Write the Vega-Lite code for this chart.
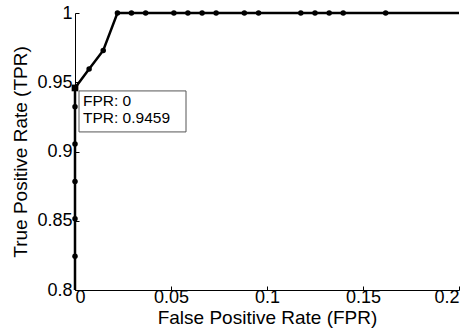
{
  "$schema": "https://vega.github.io/schema/vega-lite/v6.json",
  "autosize": "none",
  "width": 384,
  "height": 277,
  "padding": {"left": 75, "top": 13, "right": 14, "bottom": 42},
  "background": "white",
  "config": {
    "view": {"stroke": null},
    "font": "Liberation Sans",
    "axis": {
      "domainColor": "black",
      "domainWidth": 1,
      "tickColor": "black",
      "tickSize": -4,
      "labelColor": "black",
      "titleColor": "black",
      "labelFont": "Liberation Sans",
      "titleFont": "Liberation Sans",
      "labelFontSize": 18,
      "titleFontSize": 19,
      "titleFontWeight": "normal",
      "grid": false
    }
  },
  "datasets": {
    "roc": [
      {"fpr": 0, "tpr": 0},
      {"fpr": 0, "tpr": 0.8243},
      {"fpr": 0, "tpr": 0.8514},
      {"fpr": 0, "tpr": 0.8784},
      {"fpr": 0, "tpr": 0.9054},
      {"fpr": 0, "tpr": 0.9324},
      {"fpr": 0, "tpr": 0.9459},
      {"fpr": 0.00735, "tpr": 0.9595},
      {"fpr": 0.0147, "tpr": 0.973},
      {"fpr": 0.0221, "tpr": 1},
      {"fpr": 0.0294, "tpr": 1},
      {"fpr": 0.0368, "tpr": 1},
      {"fpr": 0.0515, "tpr": 1},
      {"fpr": 0.0588, "tpr": 1},
      {"fpr": 0.0662, "tpr": 1},
      {"fpr": 0.0735, "tpr": 1},
      {"fpr": 0.0882, "tpr": 1},
      {"fpr": 0.0956, "tpr": 1},
      {"fpr": 0.1176, "tpr": 1},
      {"fpr": 0.125, "tpr": 1},
      {"fpr": 0.1324, "tpr": 1},
      {"fpr": 0.1397, "tpr": 1},
      {"fpr": 0.1618, "tpr": 1},
      {"fpr": 1, "tpr": 1}
    ],
    "tip": [
      {"fpr": 0, "tpr": 0.9459, "label": ["FPR: 0", "TPR: 0.9459"]}
    ]
  },
  "layer": [
    {
      "data": {"name": "roc"},
      "mark": {"type": "line", "color": "black", "strokeWidth": 2.5},
      "encoding": {
        "x": {
          "field": "fpr", "type": "quantitative",
          "scale": {"domain": [0, 0.2], "clamp": true, "nice": false},
          "axis": {"values": [0, 0.05, 0.1, 0.15, 0.2], "title": "False Positive Rate (FPR)", "labelPadding": 2, "titlePadding": 2, "format": "~g"}
        },
        "y": {
          "field": "tpr", "type": "quantitative",
          "scale": {"domain": [0.8, 1], "clamp": true, "nice": false, "zero": false},
          "axis": {"values": [0.8, 0.85, 0.9, 0.95, 1], "title": "True Positive Rate (TPR)", "labelPadding": 7, "titlePadding": 6, "format": "~g"}
        }
      }
    },
    {
      "data": {"name": "roc"},
      "transform": [{"filter": "datum.fpr <= 0.2 && datum.tpr >= 0.8"}],
      "mark": {"type": "circle", "color": "black", "opacity": 1, "size": 30},
      "encoding": {
        "x": {"field": "fpr", "type": "quantitative"},
        "y": {"field": "tpr", "type": "quantitative"}
      }
    },
    {
      "data": {"name": "tip"},
      "mark": {"type": "square", "color": "black", "opacity": 1, "size": 45},
      "encoding": {
        "x": {"field": "fpr", "type": "quantitative"},
        "y": {"field": "tpr", "type": "quantitative"}
      }
    },
    {
      "data": {"name": "tip"},
      "mark": {"type": "rect", "fill": "white", "stroke": "#555555", "strokeWidth": 1, "width": 107, "height": 41, "xOffset": 57.5, "yOffset": 23.5},
      "encoding": {
        "x": {"field": "fpr", "type": "quantitative"},
        "y": {"field": "tpr", "type": "quantitative"}
      }
    },
    {
      "data": {"name": "tip"},
      "mark": {"type": "text", "align": "left", "baseline": "middle", "font": "Liberation Sans", "fontSize": 15.5, "lineHeight": 17, "color": "black", "dx": 8, "dy": 13},
      "encoding": {
        "x": {"field": "fpr", "type": "quantitative"},
        "y": {"field": "tpr", "type": "quantitative"},
        "text": {"field": "label"}
      }
    }
  ]
}
